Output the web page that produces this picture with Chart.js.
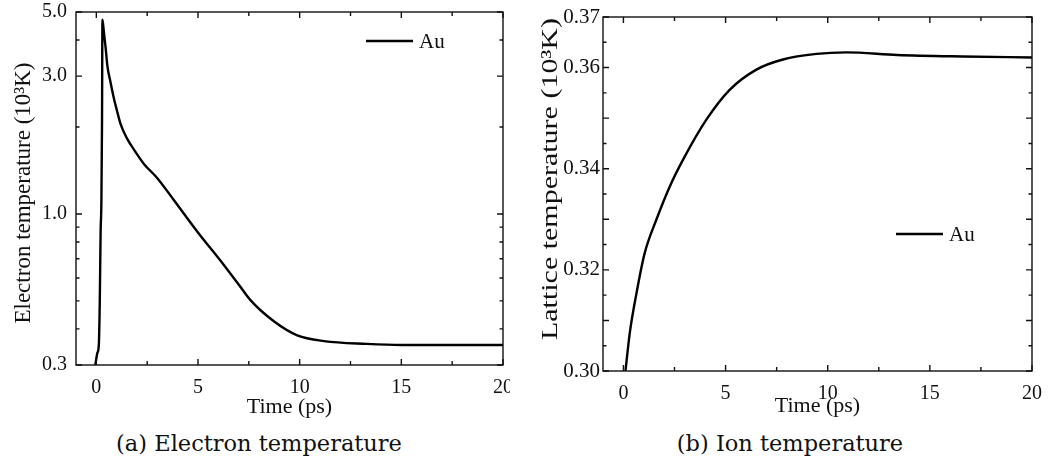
<!DOCTYPE html>
<html>
<head>
<meta charset="utf-8">
<script src="https://cdn.jsdelivr.net/npm/chart.js@4.4.1/dist/chart.umd.min.js"></script>
<style>
  body { margin: 0; background: #fff; width: 1056px; height: 462px; overflow: hidden; position: relative; }
  canvas { position: absolute; top: 0; }
  #chartA { left: 0; }
  #chartB { left: 530px; }
  .cap { position: absolute; top: 428px; font-family: "DejaVu Serif", serif; font-size: 22.5px; color: #111;
         white-space: nowrap; transform: translateX(-50%); line-height: 30px; }
</style>
</head>
<body>
<canvas id="chartA" width="510" height="425"></canvas>
<canvas id="chartB" width="526" height="425"></canvas>
<div class="cap" style="left:259px">(a) Electron temperature</div>
<div class="cap" style="left:790px">(b) Ion temperature</div>

<script>
// --- datos ---
const timeA = [-0.05, 0.05, 0.12, 0.17, 0.21, 0.25, 0.28, 0.30, 0.37, 0.46, 0.54, 0.70, 0.87, 1.0, 1.19, 1.5, 1.85, 2.34, 3.0, 3.8, 4.96, 6.27, 7.0, 7.58, 8.73, 9.88, 11.2, 13.3, 15.0, 20.0];
const tempA = [0.30, 0.33, 0.35, 0.50, 0.86, 1.12, 2.10, 4.70, 4.27, 3.74, 3.27, 2.85, 2.50, 2.30, 2.05, 1.83, 1.67, 1.49, 1.33, 1.12, 0.87, 0.666, 0.57, 0.503, 0.425, 0.38, 0.363, 0.355, 0.352, 0.352];

const timeB = [0.10, 0.31, 0.64, 1.04, 1.61, 2.27, 2.92, 4.06, 5.2, 6.51, 7.81, 9.45, 10.9, 13.4, 16.6, 20.0];
const tempB = [0.300, 0.3075, 0.3154, 0.3233, 0.3299, 0.3365, 0.3418, 0.3497, 0.3556, 0.3596, 0.3616, 0.3627, 0.3630, 0.3625, 0.3622, 0.3620];

const xTicks  = [0, 2.5, 5, 7.5, 10, 12.5, 15, 17.5, 20];
const xLabels = [0, 5, 10, 15, 20];

const yTicksA  = [0.3, 0.4, 0.5, 0.6, 0.7, 0.8, 0.9, 1, 2, 3, 4, 5];
const yLabelsA = [0.3, 1, 3, 5];

const yTicksB  = [0.300, 0.305, 0.310, 0.315, 0.320, 0.325, 0.330, 0.335, 0.340, 0.345, 0.350, 0.355, 0.360, 0.365, 0.370];
const yLabelsB = [0.30, 0.32, 0.34, 0.36, 0.37];
const yMajorB  = [0.30, 0.31, 0.32, 0.33, 0.34, 0.35, 0.36, 0.37];

const seriesName = "Au";

const has = (arr, v) => arr.some(a => Math.abs(a - v) < 1e-9);
const SERIF = '"Liberation Serif", "Times New Roman", serif';

// marco con ticks hacia adentro en los 4 lados + leyenda + titulo vertical
const framePlugin = {
  id: 'frame',
  afterDatasetsDraw(chart, args, opts) {
    const { ctx, chartArea: a, scales: { x, y } } = chart;
    ctx.save();
    ctx.strokeStyle = '#111';
    ctx.lineWidth = 1.4;
    ctx.strokeRect(a.left, a.top, a.right - a.left, a.bottom - a.top);
    ctx.beginPath();
    opts.xTicks.forEach(v => {
      const p = x.getPixelForValue(v);
      const len = has(opts.xMajor, v) ? 6 : 4;
      ctx.moveTo(p, a.bottom); ctx.lineTo(p, a.bottom - len);
      ctx.moveTo(p, a.top); ctx.lineTo(p, a.top + len);
    });
    opts.yTicks.forEach(v => {
      const p = y.getPixelForValue(v);
      const len = has(opts.yMajor, v) ? 6 : 3.5;
      ctx.moveTo(a.left, p); ctx.lineTo(a.left + len, p);
      ctx.moveTo(a.right, p); ctx.lineTo(a.right - len, p);
    });
    ctx.stroke();

    // leyenda
    const L = opts.legend;
    ctx.lineWidth = 2.4;
    ctx.strokeStyle = '#000';
    ctx.beginPath();
    ctx.moveTo(L.x, L.y); ctx.lineTo(L.x + 47, L.y);
    ctx.stroke();
    ctx.fillStyle = '#111';
    ctx.font = '21px ' + SERIF;
    ctx.textBaseline = 'middle';
    ctx.fillText(chart.data.datasets[0].label, L.x + 53, L.y + 1);

    // titulo del eje y
    const T = opts.yTitle;
    ctx.font = T.size + 'px ' + SERIF;
    ctx.textAlign = 'center';
    const w = ctx.measureText(T.text).width;
    ctx.translate(T.x, T.y);
    ctx.rotate(-Math.PI / 2);
    if (T.len) ctx.scale(T.len / w, 1);
    ctx.fillText(T.text, 0, 0);
    ctx.restore();
  }
};

function makeChart(id, cfg) {
  return new Chart(document.getElementById(id), {
    type: 'line',
    data: {
      datasets: [{
        label: seriesName,
        data: cfg.xs.map((t, i) => ({ x: t, y: cfg.ys[i] })),
        borderColor: '#000',
        borderWidth: 2.4,
        pointRadius: 0,
        cubicInterpolationMode: 'monotone',
        fill: false
      }]
    },
    options: {
      responsive: false,
      animation: false,
      devicePixelRatio: 1,
      layout: { padding: cfg.pad },
      plugins: {
        legend: { display: false },
        tooltip: { enabled: false },
        frame: { xTicks, xMajor: xLabels, yTicks: cfg.yTicks, yMajor: cfg.yMajor, legend: cfg.legend, yTitle: cfg.yTitle }
      },
      scales: {
        x: {
          type: 'linear', min: -1, max: 20,
          grid: { display: false, drawTicks: false },
          border: { display: false },
          afterBuildTicks: s => { s.ticks = xTicks.map(v => ({ value: v })); },
          afterFit: s => { s.height = cfg.xH; s.paddingLeft = 0; s.paddingRight = 0; },
          ticks: {
            autoSkip: false, maxRotation: 0, padding: cfg.xPad, color: '#111',
            font: { family: SERIF, size: 20 },
            callback: v => has(xLabels, v) ? String(v) : ''
          },
          title: {
            display: true, text: 'Time (ps)', color: '#111',
            font: { family: SERIF, size: 22 }, padding: { top: 0, bottom: cfg.xTitlePad }
          }
        },
        y: {
          type: cfg.yType, min: cfg.yMin, max: cfg.yMax,
          grid: { display: false, drawTicks: false },
          border: { display: false },
          afterBuildTicks: s => { s.ticks = cfg.yTicks.map(v => ({ value: v })); },
          afterFit: s => { s.width = cfg.yW; s.paddingTop = 0; s.paddingBottom = 0; },
          ticks: {
            autoSkip: false, padding: cfg.yPad, color: '#111',
            font: { family: SERIF, size: cfg.yTickSize },
            callback: v => has(cfg.yLabels, v) ? v.toFixed(cfg.dec) : ''
          }
        }
      }
    },
    plugins: [framePlugin]
  });
}

makeChart('chartA', {
  xs: timeA, ys: tempA,
  yType: 'logarithmic', yMin: 0.3, yMax: 5,
  yTicks: yTicksA, yLabels: yLabelsA, yMajor: yLabelsA, dec: 1, yTickSize: 20,
  pad: { left: 0, top: 12, right: 7, bottom: 0 },
  yW: 76, xH: 60, xPad: 11, yPad: 9, xTitlePad: 5,
  yTitle: { text: 'Electron temperature (10\u00B3K)', x: 24, y: 193, size: 23 },
  legend: { x: 366, y: 41 }
});

makeChart('chartB', {
  xs: timeB, ys: tempB,
  yType: 'linear', yMin: 0.30, yMax: 0.37,
  yTicks: yTicksB, yLabels: yLabelsB, yMajor: yMajorB, dec: 2, yTickSize: 21,
  pad: { left: 0, top: 17, right: 24, bottom: 0 },
  yW: 73, xH: 54, xPad: 11, yPad: 3, xTitlePad: 6,
  yTitle: { text: 'Lattice temperature (10\u00B3K)', x: 21, y: 179, size: 23, len: 322 },
  legend: { x: 366, y: 234 }
});
</script>
</body>
</html>
